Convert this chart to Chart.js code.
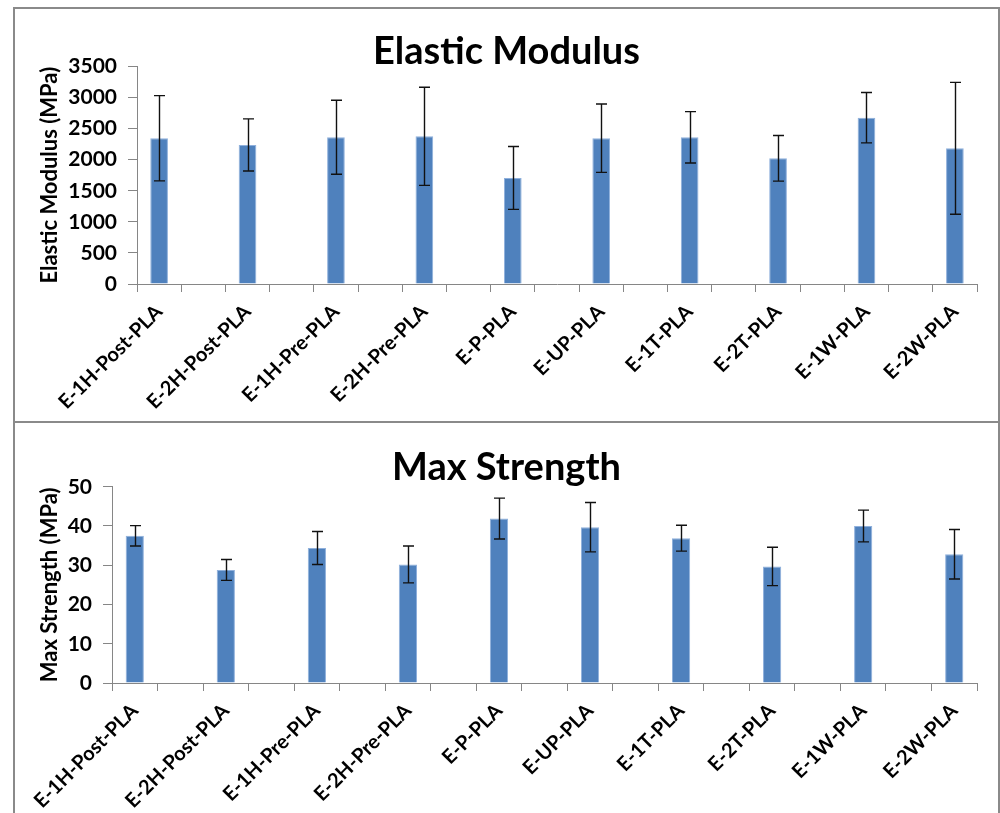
<!DOCTYPE html>
<html>
<head>
<meta charset="utf-8">
<script src="https://cdn.jsdelivr.net/npm/chart.js@4"></script>
<style>
  body { margin: 0; background: #fff; width: 1000px; height: 813px; overflow: hidden; position: relative; }
  .panel { position: absolute; left: 13px; width: 987px; border: 2px solid #8a8a8a; box-sizing: border-box; background: #fff; }
  #p1 { top: 7px; height: 416px; }
  #p2 { top: 421px; height: 396px; }
  canvas { display: block; }
</style>
</head>
<body>
<div class="panel" id="p1"><canvas id="modulusChart" width="983" height="412"></canvas></div>
<div class="panel" id="p2"><canvas id="strengthChart" width="983" height="392"></canvas></div>
<script>
// sample groups
const samples = ['E-1H-Post-PLA', 'E-2H-Post-PLA', 'E-1H-Pre-PLA', 'E-2H-Pre-PLA', 'E-P-PLA',
                 'E-UP-PLA', 'E-1T-PLA', 'E-2T-PLA', 'E-1W-PLA', 'E-2W-PLA'];

// elastic modulus (MPa) and its error
const modulus = [2345, 2237, 2360, 2376, 1706, 2345, 2360, 2022, 2676, 2183];
const modulusErr = [686, 420, 595, 790, 505, 550, 413, 367, 405, 1060];
const modulusTicks = [0, 500, 1000, 1500, 2000, 2500, 3000, 3500];

// max strength (MPa) and its error
const strength = [37.5, 28.8, 34.4, 30.2, 41.9, 39.7, 36.9, 29.7, 40.0, 32.8];
const strengthErr = [2.6, 2.65, 4.2, 4.7, 5.2, 6.3, 3.3, 4.9, 4.05, 6.3];
const strengthTicks = [0, 10, 20, 30, 40, 50];

Chart.defaults.font.family = 'Lato';
Chart.defaults.color = '#000';

// the sheet had a blank column between samples, so every other slot is empty
function spread(arr, blank) {
    const out = [];
    arr.forEach((v, i) => {
        out.push(v);
        if (i < arr.length - 1) out.push(blank);
    });
    return out;
}

const errorBars = {
    id: 'errorBars',
    afterDatasetsDraw(chart, args, opts) {
        const ctx = chart.ctx;
        const meta = chart.getDatasetMeta(0);
        const y = chart.scales.y;
        const vals = chart.data.datasets[0].data;
        const errs = opts.errors;
        ctx.save();
        ctx.strokeStyle = '#111';
        ctx.lineWidth = 1.4;
        meta.data.forEach((bar, i) => {
            if (vals[i] == null) return;
            const top = y.getPixelForValue(vals[i] + errs[i]);
            const bot = y.getPixelForValue(vals[i] - errs[i]);
            const x = Math.round(bar.x) + 0.5;
            ctx.beginPath();
            ctx.moveTo(x, top); ctx.lineTo(x, bot);
            ctx.moveTo(x - 5.5, top); ctx.lineTo(x + 5.5, top);
            ctx.moveTo(x - 5.5, bot); ctx.lineTo(x + 5.5, bot);
            ctx.stroke();
        });
        ctx.restore();
    }
};

function makeChart(id, cfg) {
    return new Chart(document.getElementById(id), {
        type: 'bar',
        data: {
            labels: spread(samples, ''),
            datasets: [{
                data: spread(cfg.values, null),
                backgroundColor: '#4f81bd',
                borderColor: '#8fb0dc',
                borderWidth: 1,
                barPercentage: 0.4,
                categoryPercentage: 1
            }]
        },
        options: {
            responsive: false,
            animation: false,
            // equal side padding keeps the title centred on the whole panel
            layout: { padding: { left: 21, right: 21, top: 0, bottom: 0 } },
            plugins: {
                legend: { display: false },
                tooltip: { enabled: false },
                title: {
                    display: true,
                    text: cfg.title,
                    font: { size: 38, weight: 'bold', lineHeight: 0.68 },
                    padding: cfg.titlePad,
                    color: '#000'
                },
                errorBars: { errors: spread(cfg.errors, null) }
            },
            scales: {
                x: {
                    offset: true,
                    grid: { display: true, drawOnChartArea: false, offset: true, tickLength: 8, color: '#868686' },
                    border: { color: '#868686' },
                    ticks: {
                        autoSkip: false, maxRotation: 45, minRotation: 45, padding: 8,
                        font: { size: 20, weight: 'bold' }
                    },
                    afterFit(s) { s.height = cfg.xHeight; }
                },
                y: {
                    min: cfg.ticks[0],
                    max: cfg.ticks[cfg.ticks.length - 1],
                    afterBuildTicks(s) { s.ticks = cfg.ticks.map(v => ({ value: v })); },
                    grid: { display: true, drawOnChartArea: false, tickLength: 9, color: '#868686' },
                    border: { color: '#868686' },
                    ticks: { padding: 11, font: { size: 21, weight: 'bold' }, callback: v => String(v) },
                    title: {
                        display: true,
                        text: cfg.yTitle,
                        font: { size: 22, weight: 'bold' },
                        padding: { top: cfg.yTitlePad, bottom: 0 }
                    },
                    afterFit(s) { s.width = cfg.yWidth; }
                }
            }
        },
        plugins: [errorBars]
    });
}

makeChart('modulusChart', {
    title: 'Elastic Modulus',
    yTitle: 'Elastic Modulus (MPa)',
    values: modulus,
    errors: modulusErr,
    ticks: modulusTicks,
    titlePad: { top: 29.6, bottom: 2 },
    yTitlePad: 1,
    yWidth: 101,
    xHeight: 137
});

makeChart('strengthChart', {
    title: 'Max Strength',
    yTitle: 'Max Strength (MPa)',
    values: strength,
    errors: strengthErr,
    ticks: strengthTicks,
    titlePad: { top: 32, bottom: 5.9 },
    yTitlePad: 1,
    yWidth: 76,
    xHeight: 132
});
</script>
</body>
</html>
